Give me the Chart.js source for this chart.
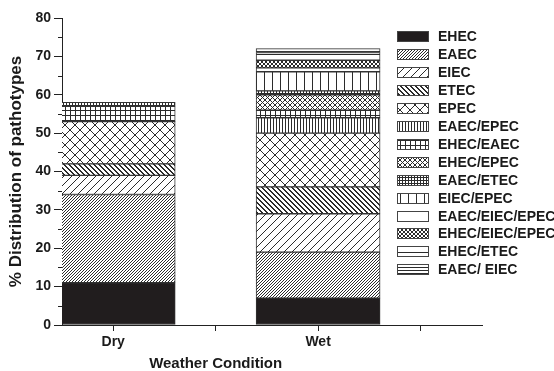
<!DOCTYPE html>
<html>
<head>
<meta charset="utf-8">
<script src="https://cdn.jsdelivr.net/npm/chart.js@4"></script>
<style>
  html, body { margin: 0; padding: 0; background: #ffffff; }
  #wrap { width: 554px; height: 371px; }
</style>
</head>
<body>
<div id="wrap"><canvas id="c" width="554" height="371"></canvas></div>
<script>
// ---- data ----
const conditions = ['Dry', 'Wet'];
const conditionPos = [1, 3];
const xTickValues = [1, 2, 3, 4];
const yTickValues = [0, 10, 20, 30, 40, 50, 60, 70, 80];
const yMinorTicks = [5, 15, 25, 35, 45, 55, 65, 75];
const pathotypes = [
  'EHEC', 'EAEC', 'EIEC', 'ETEC', 'EPEC', 'EAEC/EPEC', 'EHEC/EAEC',
  'EHEC/EPEC', 'EAEC/ETEC', 'EIEC/EPEC', 'EAEC/EIEC/EPEC',
  'EHEC/EIEC/EPEC', 'EHEC/ETEC', 'EAEC/ EIEC'
];
const dryValues = [11, 23, 5, 3, 11, 0, 4, 0, 1, 0, 0, 0, 0, 0];
const wetValues = [7, 12, 10, 7, 14, 4, 2, 4, 1, 5, 1, 2, 2, 1];

// ---- styling ----
const INK = '#2b2b2b';
const FONT = '"Liberation Sans", Arial, Helvetica, sans-serif';
const TEXT = '#1a1a1a';
// [kind, tile size, line thickness] for each pathotype fill
const fillSpecs = [
  ['solid', 4, 1],
  ['fwd', 3, 1],
  ['fwd', 8, 1],
  ['back', 5, 2],
  ['cross', 10, 1],
  ['vert', 3, 1],
  ['grid', 5, 1],
  ['cross', 5, 1],
  ['grid', 3, 1],
  ['vert', 8, 1],
  ['none', 4, 1],
  ['cross', 4, 1],
  ['horiz', 6, 1],
  ['horiz', 3, 1]
];

const canvas = document.getElementById('c');
const ctx = canvas.getContext('2d');

function makePattern(kind, size, thick) {
  const c = document.createElement('canvas');
  c.width = size; c.height = size;
  const g = c.getContext('2d');
  g.fillStyle = '#ffffff';
  g.fillRect(0, 0, size, size);
  g.fillStyle = INK;
  const dot = (x, y) => g.fillRect(((x % size) + size) % size, ((y % size) + size) % size, 1, 1);
  if (kind === 'solid') {
    g.fillStyle = '#211d1e';
    g.fillRect(0, 0, size, size);
  } else {
    for (let i = 0; i < size; i++) {
      for (let t = 0; t < thick; t++) {
        if (kind === 'fwd' || kind === 'cross') dot(i, size - 1 - i + t);
        if (kind === 'back' || kind === 'cross') dot(i, i + t);
        if (kind === 'vert' || kind === 'grid') dot(t, i);
        if (kind === 'horiz' || kind === 'grid') dot(i, t);
      }
    }
  }
  return ctx.createPattern(c, 'repeat');
}

const datasets = pathotypes.map((name, i) => ({
  label: name,
  data: conditionPos.map((x, k) => ({ x: x, y: [dryValues, wetValues][k][i] })),
  backgroundColor: makePattern(...fillSpecs[i]),
  borderColor: '#333333',
  borderWidth: 1,
  borderSkipped: false,
  barThickness: 124,
  clip: 0
}));

// axis extras: minor ticks, x title and the legend column
const decor = {
  id: 'decor',
  afterDraw(chart) {
    const c = chart.ctx;
    const ys = chart.scales.y, xs = chart.scales.x;
    c.save();
    // minor y ticks
    c.strokeStyle = '#222';
    c.lineWidth = 1;
    yMinorTicks.forEach(v => {
      const py = Math.round(ys.getPixelForValue(v)) + 0.5;
      c.beginPath();
      c.moveTo(ys.right - 4, py);
      c.lineTo(ys.right, py);
      c.stroke();
    });
    // x axis title
    c.fillStyle = TEXT;
    c.font = 'bold 15px ' + FONT;
    c.textAlign = 'center';
    c.textBaseline = 'middle';
    c.fillText('Weather Condition', xs.getPixelForValue(2), 364);
    // legend
    const lx = 397, bw = 32, bh = 11, top = 36, step = 17.95;
    c.textAlign = 'left';
    c.font = 'bold 14px ' + FONT;
    chart.data.datasets.forEach((ds, i) => {
      const cy = Math.round(top + i * step);
      c.fillStyle = ds.backgroundColor;
      c.fillRect(lx, cy - 5, bw, bh);
      c.strokeStyle = '#444';
      c.strokeRect(lx + 0.5, cy - 5 + 0.5, bw - 1, bh - 1);
      c.fillStyle = TEXT;
      c.fillText(ds.label, lx + 41, cy + 1);
    });
    c.restore();
  }
};

new Chart(ctx, {
  type: 'bar',
  data: { datasets },
  plugins: [decor],
  options: {
    responsive: false,
    animation: false,
    devicePixelRatio: 1,
    layout: { padding: { left: 0, top: 18, right: 72, bottom: 0 } },
    plugins: { legend: { display: false }, tooltip: { enabled: false } },
    scales: {
      x: {
        type: 'linear',
        stacked: true,
        offset: false,
        min: 0.5,
        max: 4.6,
        afterBuildTicks: s => { s.ticks = xTickValues.map(v => ({ value: v })); },
        afterFit: s => { s.height = 46; },
        ticks: {
          callback: v => { const k = conditionPos.indexOf(v); return k >= 0 ? conditions[k] : ''; },
          font: { family: FONT, size: 14, weight: 'bold' },
          color: TEXT,
          padding: 3,
          maxRotation: 0
        },
        grid: { offset: false, drawOnChartArea: false, drawTicks: true, tickLength: 6, tickColor: '#222', tickWidth: 1 },
        border: { display: true, color: '#222', width: 1 }
      },
      y: {
        stacked: true,
        min: 0,
        max: 80,
        afterBuildTicks: s => { s.ticks = yTickValues.map(v => ({ value: v })); },
        afterFit: s => { s.width = 62; },
        ticks: {
          font: { family: FONT, size: 14, weight: 'bold' },
          color: TEXT,
          padding: 3
        },
        grid: { drawOnChartArea: false, drawTicks: true, tickLength: 8, tickColor: '#222', tickWidth: 1 },
        border: { display: true, color: '#222', width: 1 },
        title: {
          display: true,
          text: '% Distribution of pathotypes',
          font: { family: FONT, size: 17, weight: 'bold' },
          color: TEXT,
          padding: { top: 6, bottom: 0 }
        }
      }
    }
  }
});
</script>
</body>
</html>
